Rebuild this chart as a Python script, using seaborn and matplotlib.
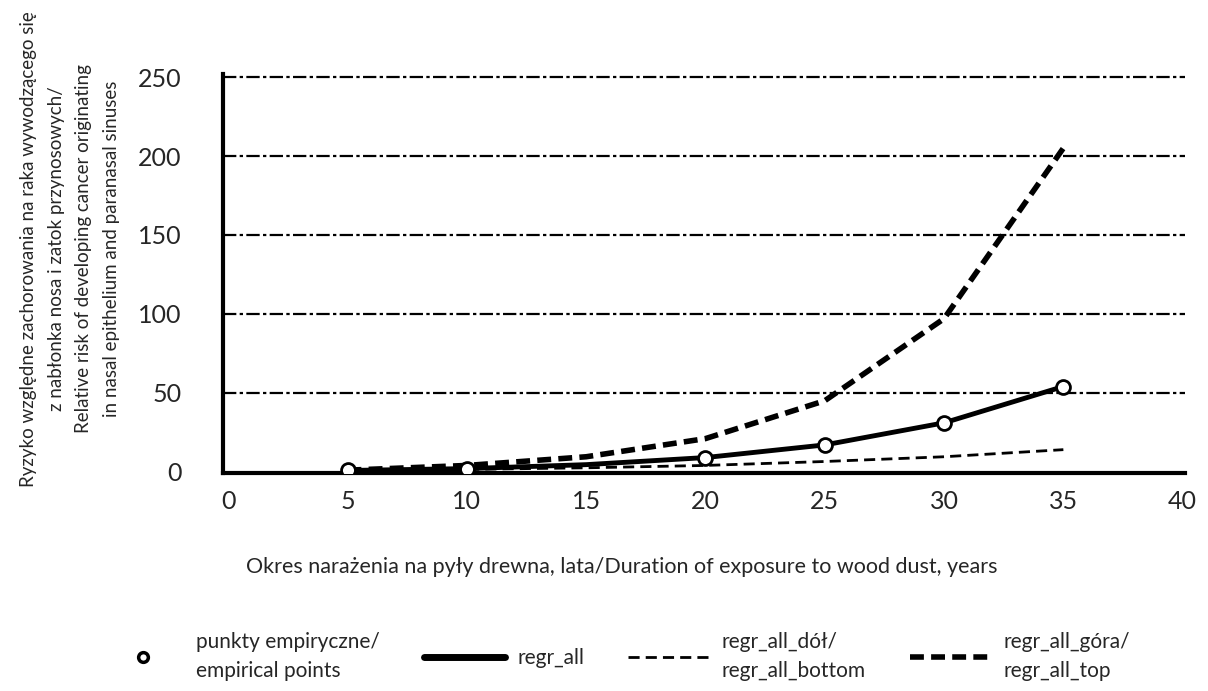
import pandas as pd
import numpy as np
import matplotlib.pyplot as plt
import seaborn as sns
from matplotlib.lines import Line2D

# values
years = [5, 10, 15, 20, 25, 30, 35]
regr_all = [0.8, 2.0, 4.5, 9.0, 17.0, 31.0, 54.0]
regr_all_bottom = [0.5, 1.5, 2.5, 4.0, 6.5, 9.5, 14.0]
regr_all_top = [1.0, 4.0, 9.5, 21.0, 45.0, 97.0, 205.0]

emp_years = [5, 10, 20, 25, 30, 35]
emp_values = [0.8, 2.0, 9.0, 17.0, 31.0, 54.0]

x_ticks = [0, 5, 10, 15, 20, 25, 30, 35, 40]
y_ticks = [0, 50, 100, 150, 200, 250]

sns.set_style("white")
plt.rcParams['font.family'] = ['Lato', 'DejaVu Sans']

lines = pd.DataFrame({
    'year': years * 3,
    'value': regr_all + regr_all_bottom + regr_all_top,
    'series': ['all'] * 7 + ['bottom'] * 7 + ['top'] * 7,
})
emp = pd.DataFrame({'year': emp_years, 'value': emp_values})

fig = plt.figure(figsize=(12.08, 6.91), dpi=100)
ax = fig.add_axes([0.185, 0.315, 0.796, 0.578])

# grid lines (dash-dot)
for v in y_ticks[1:]:
    ax.axhline(v, color='black', lw=1.6, ls=(0, (6, 1.5, 1.5, 1.5)), zorder=1)

sns.lineplot(data=lines[lines.series == 'bottom'], x='year', y='value', ax=ax,
             color='black', lw=2, zorder=2)
ax.lines[-1].set_dashes((4, 2.2))
sns.lineplot(data=lines[lines.series == 'top'], x='year', y='value', ax=ax,
             color='black', lw=4, zorder=2)
ax.lines[-1].set_dashes((2.5, 1.3))
sns.lineplot(data=lines[lines.series == 'all'], x='year', y='value', ax=ax,
             color='black', lw=3.5, zorder=3)
sns.scatterplot(data=emp, x='year', y='value', ax=ax, s=100, marker='o',
                facecolor='white', edgecolor='black', linewidth=2, zorder=4)

ax.set_xlim(-0.2, 40.1)
ax.set_ylim(-1, 252)
ax.set_xticks(x_ticks)
ax.set_yticks(y_ticks)
ax.tick_params(axis='x', direction='in', length=8, width=2, pad=12, labelsize=18)
ax.tick_params(axis='y', direction='in', length=6, width=2, pad=30, labelsize=18)
for s in ['top', 'right']:
    ax.spines[s].set_visible(False)
for s in ['left', 'bottom']:
    ax.spines[s].set_linewidth(3)
    ax.spines[s].set_color('black')
ax.set_xlabel('Okres narażenia na pyły drewna, lata/Duration of exposure to wood dust, years',
              fontsize=15.5)
ax.xaxis.set_label_coords(0.414, -0.21)
ax.set_ylabel('')

fig.text(0.058, 0.64,
         'Ryzyko względne zachorowania na raka wywodzącego się\n'
         'z nabłonka nosa i zatok przynosowych/\n'
         'Relative risk of developing cancer originating\n'
         'in nasal epithelium and paranasal sinuses',
         rotation=90, ha='center', va='center', multialignment='center',
         fontsize=13.5, linespacing=1.75)

handles = [
    Line2D([], [], ls='none', marker='o', markersize=7, markerfacecolor='white',
           markeredgecolor='black', markeredgewidth=2.5),
    Line2D([], [], color='black', lw=5),
    Line2D([], [], color='black', lw=2, dashes=(4, 2.2)),
    Line2D([], [], color='black', lw=4, dashes=(2.5, 1.3)),
]
labels = ['punkty empiryczne/\nempirical points', 'regr_all',
          'regr_all_dół/\nregr_all_bottom', 'regr_all_góra/\nregr_all_top']
leg = fig.legend(handles, labels, loc='center', bbox_to_anchor=(0.51, 0.05), ncol=4,
                 frameon=False, fontsize=15, handlelength=3.9, columnspacing=2.1,
                 handletextpad=0.6, labelspacing=0.2)
for t in leg.get_texts():
    t.set_linespacing(1.6)

fig.savefig('out.png', dpi=100)
